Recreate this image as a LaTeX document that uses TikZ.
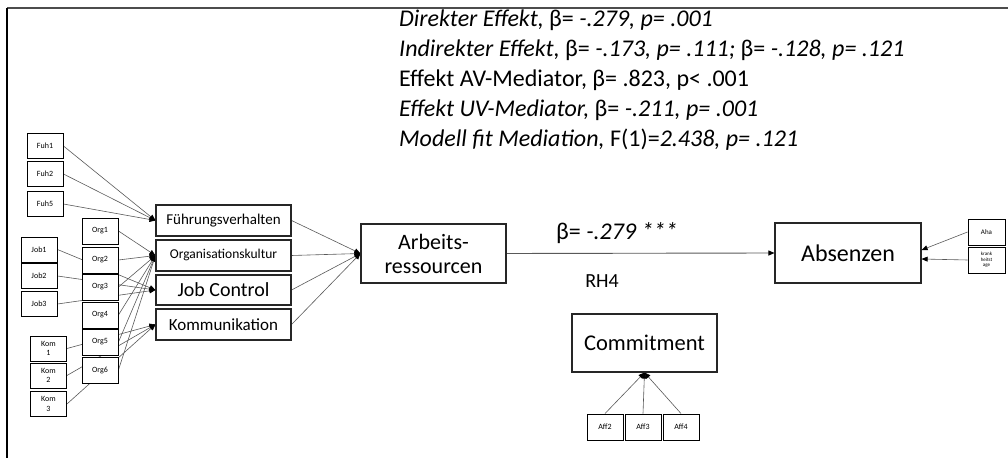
\documentclass[tikz,border=0pt]{standalone}
\usepackage{fontspec}
\setmainfont{Carlito}
\usetikzlibrary{arrows.meta,backgrounds}
\newcommand{\fs}[1]{\fontsize{#1bp}{1.15\dimexpr#1bp\relax}\selectfont}
\begin{document}
\begin{tikzpicture}[x=1bp,y=-1bp,
  ind/.style={draw=black, line width=0.9bp, fill=white, inner sep=0pt, align=center,
              minimum width=36bp, minimum height=25bp, font=\fs{8}},
  mid/.style={draw=black!85, line width=1.1bp, fill=white, inner sep=0pt, align=center,
              minimum width=135bp, minimum height=31bp},
  big/.style={draw=black!85, line width=1.1bp, fill=white, inner sep=0pt, align=center},
  link/.style={draw=black!65, line width=0.6bp, -{Triangle[length=6bp,width=5bp,color=black]}},
  stat/.style={anchor=base west, inner sep=0pt, font=\fs{24}}
]
\useasboundingbox (0,0) rectangle (1008,458);

% frame
\draw[black!70, line width=2bp] (7,8.5) -- (1008,8.5);
\draw[black, line width=1.5bp] (7,8) -- (7,458);

% indicators
\node[ind] (fuh1) at (45,146) {Fuh1};
\node[ind] (fuh2) at (45,174) {Fuh2};
\node[ind] (fuh5) at (45,204) {Fuh5};

\node[ind] (job1) at (39,249.5) {Job1};
\node[ind] (job2) at (39,276) {Job2};
\node[ind] (job3) at (39,304) {Job3};

\node[ind] (kom1) at (48.5,348.5) {Kom\\1};
\node[ind] (kom2) at (48.5,375.5) {Kom\\2};
\node[ind] (kom3) at (48.5,404) {Kom\\3};

\node[ind, minimum height=26bp] (org1) at (100,231) {Org1};
\node[ind, minimum height=26bp] (org2) at (100,260) {Org2};
\node[ind, minimum height=26bp] (org3) at (100,287) {Org3};
\node[ind, minimum height=26bp] (org4) at (100,315) {Org4};
\node[ind, minimum height=26bp] (org5) at (100,342) {Org5};
\node[ind, minimum height=26bp] (org6) at (100,370) {Org6};

% resource constructs
\node[mid, font=\fs{15}] (fvh) at (223.5,220.5) {Führungsverhalten};
\node[mid, font=\fs{13.5}] (okl) at (223.5,255.5) {\raisebox{3bp}{Organisationskultur}};
\node[mid, font=\fs{20}, minimum height=30bp] (jc) at (223.5,290) {Job Control};
\node[mid, font=\fs{17}] (kmm) at (223.5,324.5) {Kommunikation};

% main constructs
\node[big, minimum width=145bp, minimum height=59bp, font=\fontsize{22bp}{24bp}\selectfont]
  (ar) at (433.5,253.5) {Arbeits-\\ressourcen};
\node[big, minimum width=146bp, minimum height=60bp, font=\fs{24}] (abs) at (848,253) {Absenzen};
\node[big, minimum width=145bp, minimum height=58bp, font=\fs{22.5}] (com) at (644.5,343) {Commitment};

\node[ind, minimum width=37bp, minimum height=26bp, font=\fs{7}] (aha) at (986.5,232) {Aha};
\node[ind, minimum width=37bp, minimum height=26bp, font=\fontsize{5bp}{5.6bp}\selectfont]
  (krank) at (986.5,260) {krank\\heitst\\age};

\node[ind, minimum height=26bp] (aff2) at (605,427) {Aff2};
\node[ind, minimum height=26bp] (aff3) at (643,427) {Aff3};
\node[ind, minimum height=26bp] (aff4) at (681,427) {Aff4};

% statistics
\node[stat] (s1) at (399,27) {\textit{Direkter Effekt,} β= \textit{-.279, p= .001}};
\node[stat] (s2) at (399,57) {\textit{Indirekter Effekt,} β= \textit{-.173, p= .111;} β= \textit{-.128, p= .121}};
\node[stat] (s3) at (399,87) {Effekt AV-Mediator, β= .823, p< .001};
\node[stat] (s4) at (399,117) {\textit{Effekt UV-Mediator,} β= \textit{-.211, p= .001}};
\node[stat] (s5) at (399,147) {\textit{Modell fit Mediation,} F(1)=\textit{2.438, p= .121}};

\node[stat] (beta) at (556,240) {β= \textit{-.279 ***}};
\node[font=\fs{20}, inner sep=0pt] (rh4) at (602,281) {RH4};

% paths
\begin{pgfonlayer}{background}
  \foreach \s in {fuh1,fuh2,fuh5} \draw[link] (\s.east) -- (fvh.west);
  \foreach \s in {org1,org2,org3,org4,org5,org6} \draw[link] (\s.east) -- (okl.west);
  \foreach \s in {job1,job2,job3} \draw[link] (\s.east) -- (jc.west);
  \foreach \s in {kom1,kom2,kom3} \draw[link] (\s.east) -- (kmm.west);
  \foreach \s in {fvh,okl,jc,kmm} \draw[link] (\s.east) -- (ar.west);
  \draw[link, line width=0.9bp] (ar.east) -- (abs.west);
  \draw[link] (aha.west) -- ([yshift=3bp]abs.east);
  \draw[link] (krank.west) -- ([yshift=-6bp]abs.east);
  \foreach \s in {aff2,aff3,aff4} \draw[link] (\s.north) -- (com.south);
\end{pgfonlayer}
\end{tikzpicture}
\end{document}
